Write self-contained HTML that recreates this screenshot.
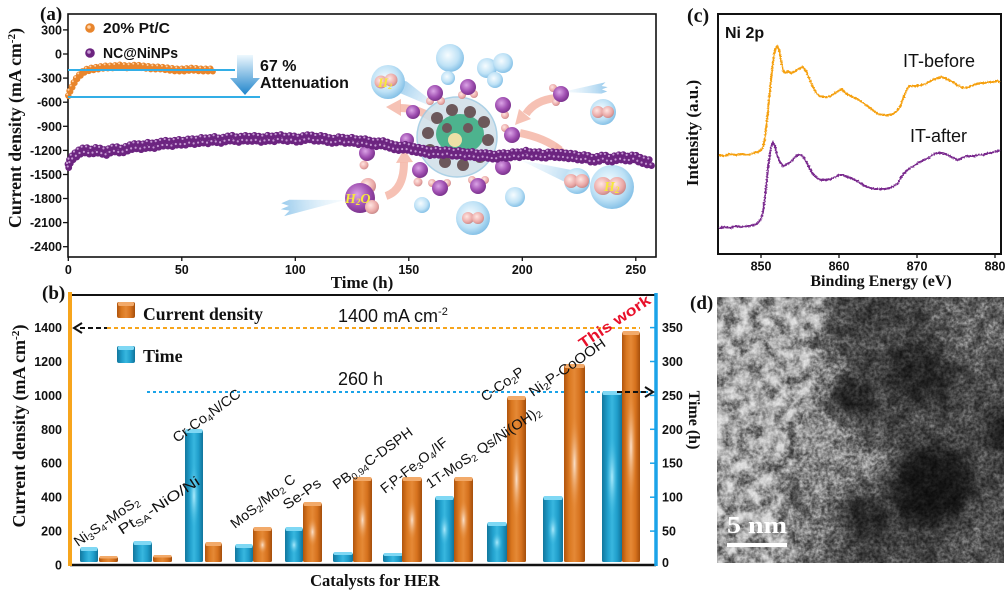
<!DOCTYPE html>
<html><head><meta charset="utf-8">
<style>
html,body{margin:0;padding:0;background:#fff;}
svg{display:block;}
.t{font-family:"Liberation Sans",Arial,sans-serif;font-weight:bold;font-size:12.5px;fill:#111;}
.s{font-family:"Liberation Serif","Times New Roman",serif;font-weight:bold;fill:#111;}
.l{font-family:"Liberation Sans",Arial,sans-serif;fill:#111;}
</style></head><body>
<svg width="1006" height="594" viewBox="0 0 1006 594" xmlns="http://www.w3.org/2000/svg">
<defs>
<radialGradient id="bub" cx=".42" cy=".4" r=".65"><stop offset="0" stop-color="#f6fcff"/><stop offset=".6" stop-color="#bfe2f6"/><stop offset="1" stop-color="#7bbbe4"/></radialGradient>
<radialGradient id="pk" cx=".4" cy=".38" r=".65"><stop offset="0" stop-color="#ffe6e2"/><stop offset=".7" stop-color="#eaa8a6"/><stop offset="1" stop-color="#c78888"/></radialGradient>
<radialGradient id="pu" cx=".4" cy=".38" r=".65"><stop offset="0" stop-color="#dba4e6"/><stop offset=".6" stop-color="#a050b2"/><stop offset="1" stop-color="#78308a"/></radialGradient>
<linearGradient id="gO" x1="0" x2="1" y1="0" y2="0"><stop offset="0" stop-color="#b0540d"/><stop offset=".25" stop-color="#da7820"/><stop offset=".5" stop-color="#e58936"/><stop offset=".75" stop-color="#d6721e"/><stop offset="1" stop-color="#a44e0b"/></linearGradient>
<linearGradient id="gB" x1="0" x2="1" y1="0" y2="0"><stop offset="0" stop-color="#12779d"/><stop offset=".3" stop-color="#22a1ce"/><stop offset=".5" stop-color="#38b7df"/><stop offset=".75" stop-color="#209ecb"/><stop offset="1" stop-color="#10739a"/></linearGradient>
<radialGradient id="hO"><stop offset="0" stop-color="#fce6d4" stop-opacity=".95"/><stop offset="1" stop-color="#e68a38" stop-opacity="0"/></radialGradient>
<radialGradient id="hB"><stop offset="0" stop-color="#b8f0ff" stop-opacity=".9"/><stop offset="1" stop-color="#38b7df" stop-opacity="0"/></radialGradient>
<linearGradient id="arG" x1="0" x2="0" y1="0" y2="1"><stop offset="0" stop-color="#eef8fe"/><stop offset="1" stop-color="#1f84cb"/></linearGradient>
<linearGradient id="stG" x1="0" x2="1"><stop offset="0" stop-color="#e6f4fc" stop-opacity=".3"/><stop offset="1" stop-color="#8cc4ea"/></linearGradient>
<filter id="jag" x="-5%" y="-20%" width="110%" height="140%" color-interpolation-filters="sRGB"><feTurbulence type="fractalNoise" baseFrequency="0.7" numOctaves="1" seed="2" result="n"/><feDisplacementMap in="SourceGraphic" in2="n" scale="3" xChannelSelector="R" yChannelSelector="G"/></filter>
<filter id="bl" x="-20%" y="-20%" width="140%" height="140%"><feGaussianBlur stdDeviation="9"/></filter>
<filter id="fine" x="0" y="0" width="1" height="1" color-interpolation-filters="sRGB"><feTurbulence type="fractalNoise" baseFrequency="0.32" numOctaves="2" seed="5" result="n"/><feColorMatrix in="n" type="matrix" values="1 0 0 0 0 1 0 0 0 0 1 0 0 0 0 0 0 0 0 1"/><feComponentTransfer><feFuncR type="linear" slope="1.8" intercept="-0.4"/><feFuncG type="linear" slope="1.8" intercept="-0.4"/><feFuncB type="linear" slope="1.8" intercept="-0.4"/></feComponentTransfer></filter>
<filter id="coarse" x="0" y="0" width="1" height="1" color-interpolation-filters="sRGB"><feTurbulence type="fractalNoise" baseFrequency="0.08" numOctaves="2" seed="9" result="n"/><feColorMatrix in="n" type="matrix" values="1 0 0 0 0 1 0 0 0 0 1 0 0 0 0 0 0 0 0 1"/><feComponentTransfer><feFuncR type="linear" slope="2.2" intercept="-0.6"/><feFuncG type="linear" slope="2.2" intercept="-0.6"/><feFuncB type="linear" slope="2.2" intercept="-0.6"/></feComponentTransfer></filter>
<clipPath id="dclip"><rect x="717" y="297" width="287" height="266"/></clipPath>
<clipPath id="lclip"><path d="M700,290 L828,290 L818,340 L810,390 L796,440 L786,490 L794,530 L798,570 L700,570Z"/></clipPath>
<clipPath id="aclip"><rect x="69" y="15" width="586" height="241"/></clipPath>
<polyline id="pp" points="68,167 70,161 73,157 77,154 81,151 86,150 91,152 96,150 101,151 106,153 111,150 116,149 121,151 126,149 131,147 136,146 142,147 148,145 154,146 160,144 166,143 172,144 178,142 184,143 190,141 196,142 202,140 208,141 214,139 220,141 226,139 232,138 238,140 244,138 250,139 256,138 262,140 268,138 274,139 280,137 286,139 292,138 298,140 304,138 310,137 316,139 322,138 328,140 334,141 340,139 346,141 352,140 358,142 364,141 370,143 376,144 382,143 388,145 394,147 400,148 406,147 412,149 418,150 424,151 430,153 436,152 442,153 448,152 454,154 460,153 466,155 472,154 478,156 484,155 490,156 496,157 502,155 508,156 514,154 520,155 526,153 532,155 538,154 544,156 550,154 556,155 562,155 568,156 574,156 580,158 586,157 592,160 598,159 604,157 610,160 616,158 622,157 628,159 634,157 640,160 646,162 653,163"/>
<polyline id="po" points="68,97 69,93 71,89 73,85 75,81 77,78 80,75 83,72 87,70 92,69 98,68 105,67 112,67 120,66 128,67 136,66 144,67 152,68 160,68 168,69 176,70 184,70 192,69 200,70 207,70 213,70"/>
<path id="stk" d="M0,0 L52,-7 L47,-3 L54,-1 L47,1 L53,4 L46,6 Z"/>
</defs>

<!-- ================= PANEL (a) ================= -->
<text class="s" x="40" y="20" font-size="19">(a)</text>
<rect x="68" y="14" width="588" height="243" fill="none" stroke="#111" stroke-width="1.6"/>
<g stroke="#111" stroke-width="1.3">
<line x1="63" y1="29.9" x2="68" y2="29.9"/><line x1="63" y1="54" x2="68" y2="54"/><line x1="63" y1="78.1" x2="68" y2="78.1"/><line x1="63" y1="102.2" x2="68" y2="102.2"/><line x1="63" y1="126.3" x2="68" y2="126.3"/><line x1="63" y1="150.4" x2="68" y2="150.4"/><line x1="63" y1="174.5" x2="68" y2="174.5"/><line x1="63" y1="198.5" x2="68" y2="198.5"/><line x1="63" y1="222.6" x2="68" y2="222.6"/><line x1="63" y1="246.7" x2="68" y2="246.7"/>
<line x1="68.3" y1="257" x2="68.3" y2="261"/><line x1="181.8" y1="257" x2="181.8" y2="261"/><line x1="295.3" y1="257" x2="295.3" y2="261"/><line x1="408.8" y1="257" x2="408.8" y2="261"/><line x1="522.3" y1="257" x2="522.3" y2="261"/><line x1="635.8" y1="257" x2="635.8" y2="261"/>
</g>
<g class="t" text-anchor="end">
<text x="62" y="34.4">300</text><text x="62" y="58.5">0</text><text x="62" y="82.6">-300</text><text x="62" y="106.7">-600</text><text x="62" y="130.8">-900</text><text x="62" y="154.9">-1200</text><text x="62" y="179">-1500</text><text x="62" y="203">-1800</text><text x="62" y="227.1">-2100</text><text x="62" y="251.2">-2400</text>
</g>
<g class="t" text-anchor="middle">
<text x="68.3" y="274">0</text><text x="181.8" y="274">50</text><text x="295.3" y="274">100</text><text x="408.8" y="274">150</text><text x="522.3" y="274">200</text><text x="635.8" y="274">250</text>
</g>
<text class="s" x="362" y="288" font-size="17" text-anchor="middle">Time (h)</text>
<text class="s" font-size="17.5" text-anchor="middle" transform="translate(21,128) rotate(-90)" textLength="200" lengthAdjust="spacingAndGlyphs">Current density (mA cm<tspan dy="-6" font-size="11">-2</tspan><tspan dy="6">)</tspan></text>

<!-- illustration -->
<g clip-path="url(#aclip)">
<g fill="url(#stG)" opacity=".9">
<use href="#stk" transform="translate(447,113) rotate(210.6) scale(1.1)"/>
<use href="#stk" transform="translate(345,200) rotate(172.8) scale(1.2)"/>
<use href="#stk" transform="translate(562,92) rotate(-5) scale(0.85)"/>
<use href="#stk" transform="translate(520,160) rotate(18.7) scale(1.3)"/>
</g>
<g fill="none" stroke="#f5b7a8" stroke-width="8" opacity=".85">
<path d="M438,122 Q420,108 400,108"/>
<path d="M386,196 Q404,190 404,162"/>
<path d="M556,98 Q535,100 526,114"/>
<path d="M520,133 Q545,138 560,150"/>
</g>
<g fill="#f5b7a8" opacity=".85">
<polygon points="401,99 386,107 401,116"/>
<polygon points="396,163 404,149 413,162"/>
<polygon points="519,109 515,125 531,119"/>
<polygon points="556,143 571,154 553,158"/>
</g>
<g fill="url(#bub)">
<circle cx="450" cy="58" r="14"/><circle cx="448" cy="78" r="7"/><circle cx="487" cy="68" r="10"/><circle cx="503" cy="63" r="10"/><circle cx="495" cy="80" r="8"/>
<circle cx="388" cy="82" r="17"/><circle cx="603" cy="112" r="13"/><circle cx="612" cy="187" r="22"/><circle cx="577" cy="181" r="13"/>
<circle cx="515" cy="197" r="10"/><circle cx="422" cy="205" r="8"/><circle cx="473" cy="218" r="17"/>
</g>
<circle cx="457" cy="137" r="40" fill="#cfdfe8" opacity=".85" stroke="#9ec9e2" stroke-width="1.5"/>
<ellipse cx="460" cy="134" rx="24" ry="20" fill="#4db38e"/>
<g fill="#6c585b">
<circle cx="437" cy="118" r="6"/><circle cx="452" cy="110" r="6"/><circle cx="470" cy="112" r="6"/><circle cx="484" cy="122" r="6"/><circle cx="488" cy="140" r="6"/><circle cx="480" cy="157" r="6"/><circle cx="463" cy="165" r="6"/><circle cx="445" cy="162" r="6"/><circle cx="430" cy="150" r="6"/><circle cx="428" cy="133" r="6"/><circle cx="468" cy="128" r="5"/><circle cx="447" cy="128" r="5"/>
</g>
<circle cx="455" cy="140" r="7" fill="#eee0a6"/>
<g>
<circle cx="430" cy="101" r="4" fill="url(#pk)"/><circle cx="441" cy="101" r="4" fill="url(#pk)"/><circle cx="435" cy="93" r="8" fill="url(#pu)"/>
<circle cx="462" cy="95" r="4" fill="url(#pk)"/><circle cx="474" cy="94" r="4" fill="url(#pk)"/><circle cx="468" cy="87" r="8" fill="url(#pu)"/>
<circle cx="413" cy="112" r="7" fill="url(#pu)"/>
<circle cx="505" cy="115" r="4" fill="url(#pk)"/><circle cx="503" cy="105" r="8" fill="url(#pu)"/>
<circle cx="505" cy="128" r="4" fill="url(#pk)"/><circle cx="512" cy="135" r="8" fill="url(#pu)"/>
<circle cx="407" cy="140" r="7" fill="url(#pu)"/>
<circle cx="364" cy="165" r="4.5" fill="url(#pk)"/><circle cx="367" cy="153" r="8" fill="url(#pu)"/>
<circle cx="418" cy="182" r="4.5" fill="url(#pk)"/><circle cx="420" cy="170" r="8" fill="url(#pu)"/>
<circle cx="432" cy="183" r="4" fill="url(#pk)"/><circle cx="447" cy="183" r="4" fill="url(#pk)"/><circle cx="440" cy="188" r="8" fill="url(#pu)"/>
<circle cx="472" cy="180" r="4" fill="url(#pk)"/><circle cx="485" cy="180" r="4" fill="url(#pk)"/><circle cx="478" cy="186" r="8" fill="url(#pu)"/>
<circle cx="503" cy="167" r="8" fill="url(#pu)"/>
<circle cx="553" cy="88" r="4" fill="url(#pk)"/><circle cx="556" cy="102" r="4" fill="url(#pk)"/><circle cx="561" cy="94" r="8" fill="url(#pu)"/>
<circle cx="368" cy="186" r="8" fill="url(#pk)"/><circle cx="360" cy="198" r="15" fill="url(#pu)"/><circle cx="372" cy="207" r="7" fill="url(#pk)"/>
</g>
<g fill="url(#pk)">
<circle cx="381" cy="82" r="6.5"/><circle cx="391" cy="80" r="6.5"/>
<circle cx="598" cy="112" r="6"/><circle cx="608" cy="112" r="6"/>
<circle cx="603" cy="186" r="9"/><circle cx="617" cy="186" r="9"/>
<circle cx="571" cy="181" r="7"/><circle cx="582" cy="181" r="7"/>
<circle cx="468" cy="218" r="6"/><circle cx="478" cy="218" r="6"/>
</g>
<g font-family="Liberation Serif,serif" font-style="italic" font-weight="bold" fill="#f6e83c">
<text x="378" y="87" font-size="13">H<tspan font-size="8" dy="2">2</tspan></text>
<text x="345" y="203" font-size="14">H<tspan font-size="9" dy="2">2</tspan><tspan dy="-2">O</tspan></text>
<text x="604" y="191" font-size="14">H<tspan font-size="9" dy="2">2</tspan></text>
</g>
</g>

<polygon points="237,55 253,55 253,78 260,78 245,95 230,78 237,78" fill="url(#arG)"/>
<g fill="none" stroke-linecap="round" stroke-dasharray="0 4.8">
<use href="#po" stroke="#e8852c" stroke-width="6" transform="translate(0,-1.5)"/>
<use href="#po" stroke="#e8852c" stroke-width="6" transform="translate(0,1.5)" stroke-dashoffset="2.4"/>
<use href="#po" stroke="#ffd2a6" stroke-width="2" transform="translate(-0.8,-2.6)"/>
</g>
<line x1="68" y1="70" x2="235" y2="70" stroke="#33aee6" stroke-width="2"/>
<line x1="68" y1="97" x2="260" y2="97" stroke="#33aee6" stroke-width="2"/>
<g fill="none" stroke-linecap="round" stroke-dasharray="0 4.6">
<use href="#pp" stroke="#6c2480" stroke-width="6.8" transform="translate(0,-2.8)"/>
<use href="#pp" stroke="#6c2480" stroke-width="6.8" transform="translate(0,2.8)" stroke-dashoffset="2.3"/>
<use href="#pp" stroke="#c79bd4" stroke-width="2.2" transform="translate(-1,-4)"/>
<use href="#pp" stroke="#c79bd4" stroke-width="2.2" transform="translate(-1,1.6)" stroke-dashoffset="2.3"/>
</g>
<circle cx="90" cy="28" r="4.8" fill="#e8852c"/><circle cx="89" cy="27" r="1.8" fill="#ffd2a6"/>
<circle cx="90" cy="53" r="4.8" fill="#6c2480"/><circle cx="89" cy="52" r="1.8" fill="#c79bd4"/>
<text class="l" x="103" y="33" font-size="15" font-weight="bold" textLength="67" lengthAdjust="spacingAndGlyphs">20% Pt/C</text>
<text class="l" x="103" y="58" font-size="15" font-weight="bold" textLength="75" lengthAdjust="spacingAndGlyphs">NC@NiNPs</text>
<text class="l" x="260" y="71" font-size="16" font-weight="bold">67 %</text>
<text class="l" x="260" y="88" font-size="16" font-weight="bold">Attenuation</text>

<!-- ================= PANEL (b) ================= -->
<text class="s" x="42" y="299" font-size="19">(b)</text>
<line x1="70" y1="295" x2="656" y2="295" stroke="#111" stroke-width="2"/>
<line x1="70" y1="565" x2="656" y2="565" stroke="#111" stroke-width="2.5"/>
<line x1="70" y1="292" x2="70" y2="566" stroke="#f7a51c" stroke-width="4"/>
<line x1="656" y1="293" x2="656" y2="566" stroke="#1ba3e8" stroke-width="3.5"/>
<g stroke="#1ba3e8" stroke-width="1.5">
<line x1="650" y1="327.6" x2="656" y2="327.6"/><line x1="650" y1="361.5" x2="656" y2="361.5"/><line x1="650" y1="395.4" x2="656" y2="395.4"/><line x1="650" y1="429.3" x2="656" y2="429.3"/><line x1="650" y1="463.2" x2="656" y2="463.2"/><line x1="650" y1="497.2" x2="656" y2="497.2"/><line x1="650" y1="531.1" x2="656" y2="531.1"/>
</g>
<g class="t" text-anchor="end">
<text x="62" y="332.1">1400</text><text x="62" y="366">1200</text><text x="62" y="399.9">1000</text><text x="62" y="433.8">800</text><text x="62" y="467.7">600</text><text x="62" y="501.7">400</text><text x="62" y="535.6">200</text><text x="62" y="569.5">0</text>
</g>
<g class="t">
<text x="662" y="332.1">350</text><text x="662" y="366">300</text><text x="662" y="399.9">250</text><text x="662" y="433.8">200</text><text x="662" y="467.7">150</text><text x="662" y="501.7">100</text><text x="662" y="535.6">50</text><text x="662" y="567">0</text>
</g>
<text class="s" font-size="17.5" text-anchor="middle" transform="translate(25,426) rotate(-90)" textLength="203" lengthAdjust="spacingAndGlyphs">Current density (mA cm<tspan dy="-6" font-size="11">-2</tspan><tspan dy="6">)</tspan></text>
<text class="s" font-size="16" text-anchor="middle" transform="translate(689,420) rotate(90)">Time (h)</text>
<text class="s" x="375" y="586" font-size="16.5" text-anchor="middle">Catalysts for HER</text>

<rect x="117" y="302" width="18" height="16" rx="2" fill="url(#gO)"/><rect x="118" y="302" width="16" height="4" rx="1.5" fill="#f2aa6a"/>
<rect x="117" y="346" width="18" height="17" rx="2" fill="url(#gB)"/><rect x="118" y="346" width="16" height="4" rx="1.5" fill="#7fd8f4"/>
<text class="s" x="143" y="320" font-size="18" textLength="120" lengthAdjust="spacingAndGlyphs">Current density</text>
<text class="s" x="143" y="362" font-size="18">Time</text>

<line x1="107" y1="328" x2="640" y2="328" stroke="#f7a51c" stroke-width="2" stroke-dasharray="4 3"/>
<line x1="80" y1="328" x2="107" y2="328" stroke="#111" stroke-width="2" stroke-dasharray="5 3"/>
<polyline points="82,323 74,328 82,333" fill="none" stroke="#111" stroke-width="2"/>
<line x1="147" y1="392" x2="650" y2="392" stroke="#1ba3e8" stroke-width="2" stroke-dasharray="3 3"/>
<text class="l" x="338" y="322" font-size="18">1400 mA cm<tspan dy="-7" font-size="11">-2</tspan></text>
<text class="l" x="338" y="385" font-size="18">260 h</text>

<g>
<rect x="80" y="548" width="18" height="14" rx="1.5" fill="url(#gB)"/><rect x="80.5" y="547" width="17" height="4" rx="1.5" fill="#7fd8f4"/>
<rect x="99" y="557" width="19" height="5" rx="1.5" fill="url(#gO)"/><rect x="99.5" y="556" width="18" height="2.5" rx="1" fill="#f2aa6a"/>
<rect x="133" y="542" width="19" height="20" rx="1.5" fill="url(#gB)"/><rect x="133.5" y="541" width="18" height="4" rx="1.5" fill="#7fd8f4"/>
<rect x="153" y="556" width="19" height="6" rx="1.5" fill="url(#gO)"/><rect x="153.5" y="555" width="18" height="2.5" rx="1" fill="#f2aa6a"/>
<rect x="185" y="430" width="18" height="132" rx="1.5" fill="url(#gB)"/><ellipse cx="194" cy="496" rx="5.5" ry="33" fill="url(#hB)"/><rect x="185.5" y="429" width="17" height="4" rx="1.5" fill="#7fd8f4"/>
<rect x="205" y="543" width="17" height="19" rx="1.5" fill="url(#gO)"/><rect x="205.5" y="542" width="16" height="4" rx="1.5" fill="#f2aa6a"/>
<rect x="235" y="545" width="18" height="17" rx="1.5" fill="url(#gB)"/><rect x="235.5" y="544" width="17" height="4" rx="1.5" fill="#7fd8f4"/>
<rect x="253" y="528" width="19" height="34" rx="1.5" fill="url(#gO)"/><ellipse cx="262.5" cy="545" rx="5" ry="9" fill="url(#hO)"/><rect x="253.5" y="527" width="18" height="4" rx="1.5" fill="#f2aa6a"/>
<rect x="285" y="528" width="18" height="34" rx="1.5" fill="url(#gB)"/><ellipse cx="294" cy="545" rx="5" ry="9" fill="url(#hB)"/><rect x="285.5" y="527" width="17" height="4" rx="1.5" fill="#7fd8f4"/>
<rect x="303" y="503" width="19" height="59" rx="1.5" fill="url(#gO)"/><ellipse cx="312.5" cy="532" rx="5.5" ry="15" fill="url(#hO)"/><rect x="303.5" y="502" width="18" height="4" rx="1.5" fill="#f2aa6a"/>
<rect x="333" y="553" width="20" height="9" rx="1.5" fill="url(#gB)"/><rect x="333.5" y="552" width="19" height="3" rx="1.5" fill="#7fd8f4"/>
<rect x="353" y="478" width="19" height="84" rx="1.5" fill="url(#gO)"/><ellipse cx="362.5" cy="520" rx="5.5" ry="21" fill="url(#hO)"/><rect x="353.5" y="477" width="18" height="4" rx="1.5" fill="#f2aa6a"/>
<rect x="383" y="554" width="20" height="8" rx="1.5" fill="url(#gB)"/><rect x="383.5" y="553" width="19" height="3" rx="1.5" fill="#7fd8f4"/>
<rect x="402" y="478" width="20" height="84" rx="1.5" fill="url(#gO)"/><ellipse cx="412" cy="520" rx="5.5" ry="21" fill="url(#hO)"/><rect x="402.5" y="477" width="19" height="4" rx="1.5" fill="#f2aa6a"/>
<rect x="435" y="497" width="19" height="65" rx="1.5" fill="url(#gB)"/><ellipse cx="444.5" cy="529.5" rx="5.5" ry="16" fill="url(#hB)"/><rect x="435.5" y="496" width="18" height="4" rx="1.5" fill="#7fd8f4"/>
<rect x="454" y="478" width="19" height="84" rx="1.5" fill="url(#gO)"/><ellipse cx="463.5" cy="520" rx="5.5" ry="21" fill="url(#hO)"/><rect x="454.5" y="477" width="18" height="4" rx="1.5" fill="#f2aa6a"/>
<rect x="487" y="523" width="20" height="39" rx="1.5" fill="url(#gB)"/><ellipse cx="497" cy="542.5" rx="5.5" ry="10" fill="url(#hB)"/><rect x="487.5" y="522" width="19" height="4" rx="1.5" fill="#7fd8f4"/>
<rect x="507" y="397" width="19" height="165" rx="1.5" fill="url(#gO)"/><ellipse cx="516.5" cy="479.5" rx="5.5" ry="41" fill="url(#hO)"/><rect x="507.5" y="396" width="18" height="4" rx="1.5" fill="#f2aa6a"/>
<rect x="543" y="497" width="20" height="65" rx="1.5" fill="url(#gB)"/><ellipse cx="553" cy="529.5" rx="5.5" ry="16" fill="url(#hB)"/><rect x="543.5" y="496" width="19" height="4" rx="1.5" fill="#7fd8f4"/>
<rect x="564" y="365" width="21" height="197" rx="1.5" fill="url(#gO)"/><ellipse cx="574.5" cy="463.5" rx="6" ry="49" fill="url(#hO)"/><rect x="564.5" y="364" width="20" height="4" rx="1.5" fill="#f2aa6a"/>
<rect x="602" y="392" width="20" height="170" rx="1.5" fill="url(#gB)"/><ellipse cx="612" cy="477" rx="6" ry="42" fill="url(#hB)"/><rect x="602.5" y="391" width="19" height="4" rx="1.5" fill="#7fd8f4"/>
<rect x="622" y="332" width="18" height="230" rx="1.5" fill="url(#gO)"/><ellipse cx="631" cy="447" rx="5.5" ry="57" fill="url(#hO)"/><rect x="622.5" y="331" width="17" height="4" rx="1.5" fill="#f2aa6a"/>
</g>
<line x1="617" y1="392" x2="648" y2="392" stroke="#111" stroke-width="2" stroke-dasharray="5 3"/>
<polyline points="645,387 653,392 645,397" fill="none" stroke="#111" stroke-width="2"/>

<g class="l" font-size="14">
<text transform="translate(78,547) rotate(-35)" textLength="76" lengthAdjust="spacingAndGlyphs">Ni<tspan font-size="9.5" dy="2.5">3</tspan><tspan dy="-2.5">S</tspan><tspan font-size="9.5" dy="2.5">4</tspan><tspan dy="-2.5">-MoS</tspan><tspan font-size="9.5" dy="2.5">2</tspan></text>
<text transform="translate(122,535) rotate(-33)" textLength="94" lengthAdjust="spacingAndGlyphs">Pt<tspan font-size="9.5" dy="2.5">SA</tspan><tspan dy="-2.5">-NiO/Ni</tspan></text>
<text transform="translate(177,443) rotate(-36)" textLength="80" lengthAdjust="spacingAndGlyphs">Cr-Co<tspan font-size="9.5" dy="2.5">4</tspan><tspan dy="-2.5">N/CC</tspan></text>
<text transform="translate(235,529) rotate(-38)" textLength="78" lengthAdjust="spacingAndGlyphs">MoS<tspan font-size="9.5" dy="2.5">2</tspan><tspan dy="-2.5">/Mo</tspan><tspan font-size="9.5" dy="2.5">2</tspan><tspan dy="-2.5"> C</tspan></text>
<text transform="translate(287,510) rotate(-35)" textLength="43" lengthAdjust="spacingAndGlyphs">Se-Ps</text>
<text transform="translate(337,490) rotate(-36)" textLength="95" lengthAdjust="spacingAndGlyphs">PB<tspan font-size="9.5" dy="2.5">0.94</tspan><tspan dy="-2.5">C-DSPH</tspan></text>
<text transform="translate(385,494) rotate(-38)" textLength="81" lengthAdjust="spacingAndGlyphs">F,P-Fe<tspan font-size="9.5" dy="2.5">3</tspan><tspan dy="-2.5">O</tspan><tspan font-size="9.5" dy="2.5">4</tspan><tspan dy="-2.5">/IF</tspan></text>
<text transform="translate(430,489) rotate(-34)" textLength="135" lengthAdjust="spacingAndGlyphs">1T-MoS<tspan font-size="9.5" dy="2.5">2</tspan><tspan dy="-2.5"> Qs/Ni(OH)</tspan><tspan font-size="9.5" dy="2.5">2</tspan></text>
<text transform="translate(485,402) rotate(-35)" textLength="49" lengthAdjust="spacingAndGlyphs">C-Co<tspan font-size="9.5" dy="2.5">2</tspan><tspan dy="-2.5">P</tspan></text>
<text transform="translate(533,397) rotate(-35)" textLength="90" lengthAdjust="spacingAndGlyphs">Ni<tspan font-size="9.5" dy="2.5">2</tspan><tspan dy="-2.5">P-CoOOH</tspan></text>
<text transform="translate(583,349) rotate(-34)" textLength="83" lengthAdjust="spacingAndGlyphs" font-weight="bold" fill="#e8102a" font-size="15">This work</text>
</g>

<!-- ================= PANEL (c) ================= -->
<text class="s" x="687" y="22" font-size="20">(c)</text>
<rect x="718" y="14" width="283" height="240" fill="none" stroke="#111" stroke-width="2"/>
<g stroke="#111" stroke-width="1.3">
<line x1="761" y1="254" x2="761" y2="258"/><line x1="839" y1="254" x2="839" y2="258"/><line x1="917" y1="254" x2="917" y2="258"/><line x1="995" y1="254" x2="995" y2="258"/>
</g>
<g class="t" text-anchor="middle">
<text x="761" y="270.5">850</text><text x="839" y="270.5">860</text><text x="917" y="270.5">870</text><text x="995" y="270.5">880</text>
</g>
<text class="s" x="881" y="286" font-size="16" text-anchor="middle">Binding Energy (eV)</text>
<text class="s" font-size="17" text-anchor="middle" transform="translate(698,133) rotate(-90)">Intensity (a.u.)</text>
<text class="l" x="725" y="38" font-size="16" font-weight="bold">Ni 2p</text>
<text class="l" x="903" y="67" font-size="18">IT-before</text>
<text class="l" x="910" y="142" font-size="18">IT-after</text>
<g fill="none" stroke-width="2" stroke-linejoin="round" filter="url(#jag)">
<path stroke="#f5a00f" d="M719,155 L724,156 L730,154 L736,155 L742,154 L748,155 L754,153 L758,152 L761,150 L763,147 L765,138 L767,120 L769,100 L771,80 L773,62 L775,50 L777,46 L779,50 L781,60 L783,70 L785,73 L788,71 L791,73 L794,72 L797,70 L800,68 L803,67 L806,71 L809,78 L812,85 L815,91 L819,96 L823,97 L827,97 L831,96 L835,93 L839,91 L842,89 L845,93 L849,95 L853,97 L857,99 L862,102 L866,105 L870,108 L874,111 L878,114 L883,115 L888,115 L893,114 L897,111 L900,107 L903,99 L906,91 L909,86 L913,86 L917,86 L921,85 L925,84 L929,82 L933,80 L937,78 L941,77 L945,78 L949,80 L953,82 L957,85 L961,87 L965,88 L969,87 L973,85 L977,84 L981,83 L985,83 L989,82 L993,82 L997,81 L1000,82"/>
<path stroke="#7a2a8e" d="M719,228 L724,227 L730,228 L736,226 L742,227 L748,226 L754,225 L758,223 L761,219 L763,212 L765,198 L767,178 L769,160 L771,147 L773,142 L775,146 L777,155 L780,162 L783,166 L786,165 L789,163 L792,161 L795,157 L798,155 L801,155 L804,158 L807,163 L810,169 L813,174 L817,178 L821,180 L826,180 L831,179 L835,177 L839,175 L843,175 L847,177 L851,178 L855,180 L860,183 L865,186 L870,188 L875,189 L880,189 L885,189 L890,188 L894,186 L898,183 L902,176 L906,171 L910,168 L914,166 L918,163 L922,161 L926,159 L930,157 L934,154 L938,153 L942,153 L946,154 L950,156 L954,158 L958,160 L962,158 L966,156 L970,156 L974,156 L978,155 L982,155 L986,154 L990,153 L994,152 L998,151 L1000,150"/>
</g>

<!-- ================= PANEL (d) ================= -->
<text class="s" x="690" y="309" font-size="19">(d)</text>
<g clip-path="url(#dclip)">
<rect x="717" y="297" width="287" height="266" fill="#4a4a4a"/>
<g filter="url(#bl)">
<rect x="810" y="285" width="200" height="50" fill="#4e4e4e"/>
<rect x="940" y="300" width="70" height="60" fill="#646464"/>
<rect x="950" y="505" width="60" height="65" fill="#555"/>
<ellipse cx="822" cy="430" rx="30" ry="80" fill="#8a8a8a"/>
<circle cx="868" cy="462" r="20" fill="#828282"/>
<ellipse cx="815" cy="532" rx="26" ry="36" fill="#727272"/>
<path d="M700,290 L825,290 L815,340 L806,390 L792,440 L782,490 L790,530 L795,570 L700,570Z" fill="#b4b4b4"/>
<circle cx="848" cy="398" r="25" fill="#222"/>
<circle cx="920" cy="372" r="35" fill="#262626"/>
<circle cx="932" cy="488" r="43" fill="#141414"/>
<circle cx="1004" cy="433" r="19" fill="#151515"/>
<circle cx="864" cy="522" r="25" fill="#282828"/>
<ellipse cx="880" cy="312" rx="45" ry="16" fill="#3c3c3c"/>
</g>
<rect x="717" y="297" width="287" height="266" filter="url(#coarse)" style="mix-blend-mode:overlay" opacity=".3"/>
<g clip-path="url(#lclip)">
<rect x="717" y="297" width="120" height="266" filter="url(#coarse)" style="mix-blend-mode:overlay" opacity=".35"/>
</g>
<rect x="717" y="297" width="287" height="266" filter="url(#fine)" style="mix-blend-mode:overlay" opacity=".4"/>
<rect x="727" y="543" width="60" height="4" fill="#fff"/>
<text x="727" y="533" font-family="Liberation Serif,serif" font-weight="bold" font-size="24" fill="#fff" textLength="60" lengthAdjust="spacingAndGlyphs">5 nm</text>
</g>
</svg>
</body></html>
